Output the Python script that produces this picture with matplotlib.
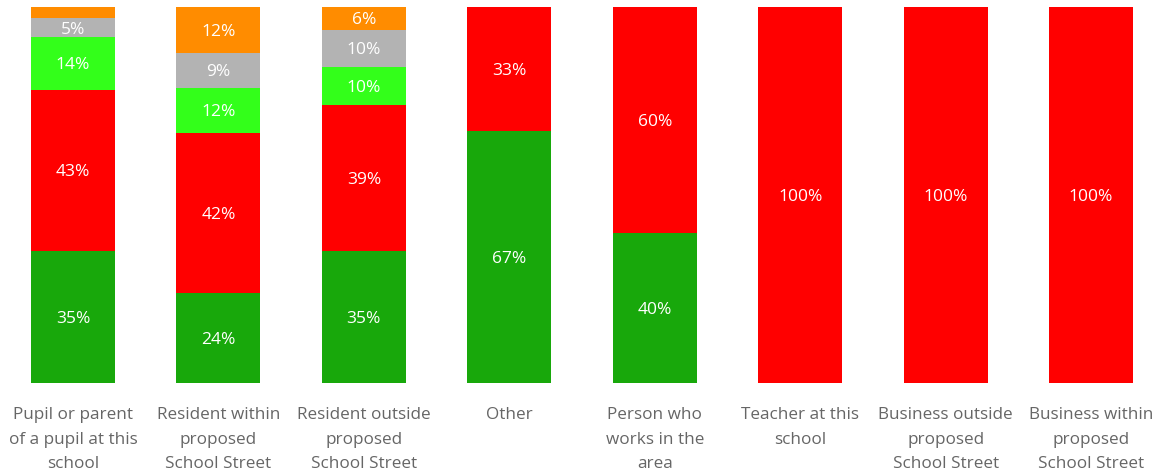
import numpy as np
import matplotlib
matplotlib.use('Agg')
import matplotlib.pyplot as plt

plt.rcParams['font.family'] = ['Open Sans', 'DejaVu Sans']

# respondent groups
categories = ['Pupil or parent\nof a pupil at this\nschool',
              'Resident within\nproposed\nSchool Street',
              'Resident outside\nproposed\nSchool Street',
              'Other',
              'Person who\nworks in the\narea',
              'Teacher at this\nschool',
              'Business outside\nproposed\nSchool Street',
              'Business within\nproposed\nSchool Street']

# percentages per answer, bottom to top
dark_green = [35, 24, 35, 67, 40, 0, 0, 0]
red        = [43, 42.5, 39, 33, 60, 100, 100, 100]
lime       = [14, 12, 10, 0, 0, 0, 0, 0]
grey       = [5, 9.3, 10, 0, 0, 0, 0, 0]
orange     = [3, 12.2, 6, 0, 0, 0, 0, 0]

series = [dark_green, red, lime, grey, orange]
colors = ['#18A80B', '#FF0000', '#33FF1A', '#B3B3B3', '#FF8C00']

W, H = 1153, 472
fig = plt.figure(figsize=(W / 100, H / 100), dpi=100)
ax = fig.add_axes([0, 89 / H, 1, 376 / H])

x = np.arange(len(categories))
bottom = np.zeros(len(categories))
for vals, c in zip(series, colors):
    vals = np.array(vals, dtype=float)
    ax.bar(x, vals, bottom=bottom, width=0.578, color=c, linewidth=0)
    for xi, b, v in zip(x, bottom, vals):
        if v >= 4:
            ax.text(xi, b + v / 2 - 0.5, '%d%%' % round(v), ha='center',
                    va='center', color='white', fontsize=12.5)
    bottom += vals

ax.set_xlim(-73 / 145.43, (W - 73) / 145.43)
ax.set_ylim(0, 100)
ax.axis('off')

for xi, lab in zip(x, categories):
    ax.text(xi, -6.3, lab, ha='center', va='top',
            color='#666666', fontsize=12.3, linespacing=1.74,
            clip_on=False)

fig.savefig('out.png', dpi=100)
